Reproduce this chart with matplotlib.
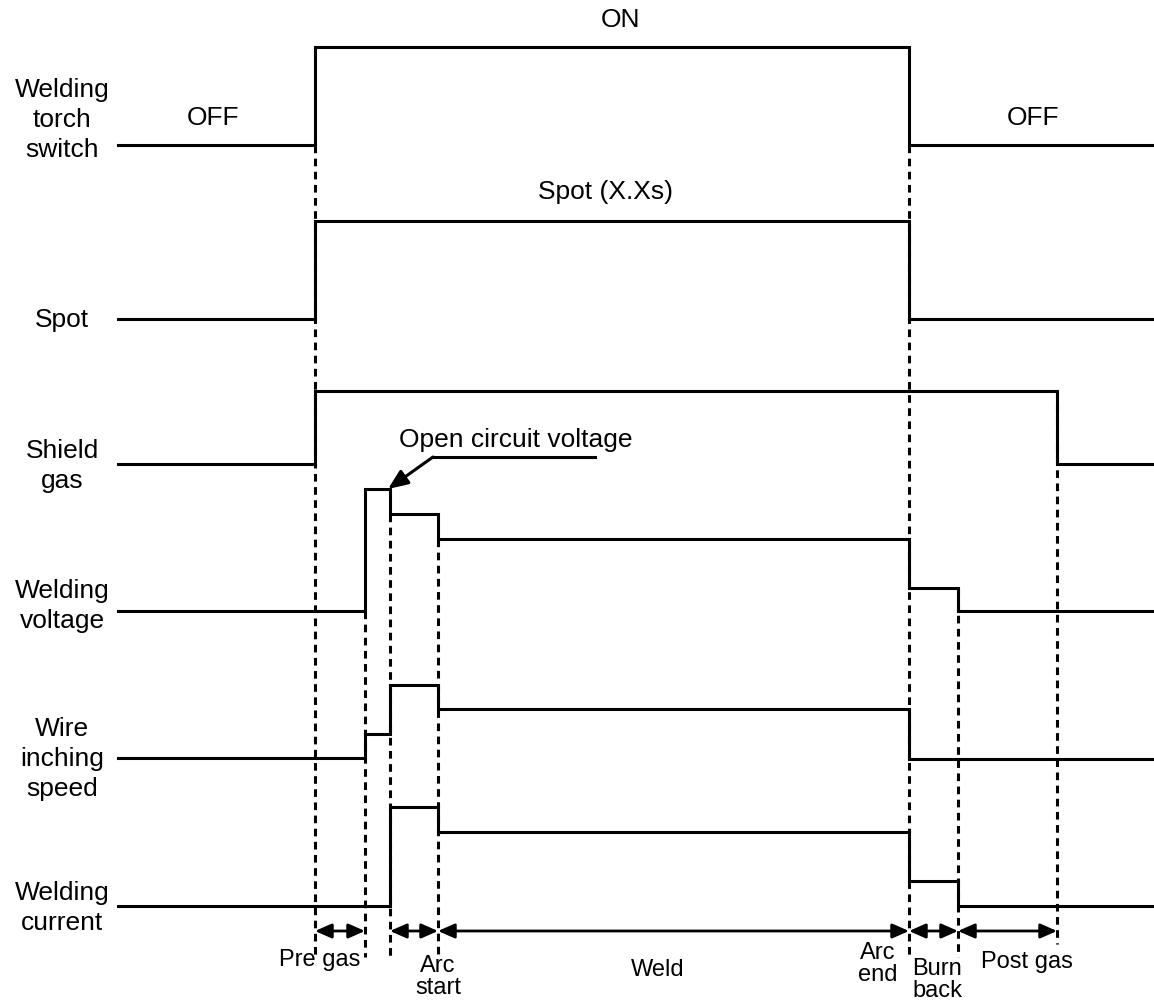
import matplotlib
matplotlib.use("Agg")
import matplotlib.pyplot as plt

plt.rcParams['font.family'] = ['Liberation Sans', 'DejaVu Sans']

# Event times (horizontal positions in drawing units)
t_start = 118
t_end = 1154
t_switch_on = 315
t_pregas_end = 365
t_arc = 390
t_arcstart_end = 438
t_switch_off = 909
t_burnback_end = 958
t_postgas_end = 1057

# Signal step definitions: change times and levels (vertical units, downward)
torch_t = [t_start, t_switch_on, t_switch_off, t_end]
torch_y = [146, 48, 146]

spot_t = [t_start, t_switch_on, t_switch_off, t_end]
spot_y = [320, 222, 320]

gas_t = [t_start, t_switch_on, t_postgas_end, t_end]
gas_y = [465, 392, 465]

volt_t = [t_start, t_pregas_end, t_arc, t_arcstart_end, t_switch_off, t_burnback_end, t_end]
volt_y = [612, 490, 515, 540, 589, 612]

wire_t = [t_start, t_pregas_end, t_arc, t_arcstart_end, t_switch_off, t_end]
wire_y = [759, 735, 686, 710, 760]

curr_t = [t_start, t_arc, t_arcstart_end, t_switch_off, t_burnback_end, t_end]
curr_y = [907, 808, 833, 882, 907]

signal_labels = ["Welding\ntorch\nswitch", "Spot", "Shield\ngas",
                 "Welding\nvoltage", "Wire\ninching\nspeed", "Welding\ncurrent"]
signal_label_y = [120, 320, 466, 606, 759, 908]

# Dashed guide lines: x, top, bottom
guide_x = [t_switch_on, t_pregas_end, t_arc, t_arcstart_end, t_switch_off, t_burnback_end, t_postgas_end]
guide_top = [146, 612, 515, 540, 146, 590, 392]
guide_bot = [958, 958, 958, 958, 958, 958, 945]

# Interval arrows
interval_from = [t_switch_on, t_arc, t_arcstart_end, t_switch_off, t_burnback_end]
interval_to = [t_pregas_end, t_arcstart_end, t_switch_off, t_burnback_end, t_postgas_end]
arrow_y = 932

period_labels = ["Pre gas", "Arc\nstart", "Weld", "Arc\nend", "Burn\nback", "Post gas"]
period_x = [320, 438, 658, 878, 937, 1027]
period_y = [960, 977, 970, 964, 980, 962]

fig = plt.figure(figsize=(11.54, 10.04), dpi=100)
ax = fig.add_axes([0, 0, 1, 1])
ax.set_xlim(0, 1154)
ax.set_ylim(1004, 0)
ax.axis('off')

lw = 2.2
for t, y in [(torch_t, torch_y), (spot_t, spot_y), (gas_t, gas_y),
             (volt_t, volt_y), (wire_t, wire_y), (curr_t, curr_y)]:
    ax.step(t, y + [y[-1]], where='post', color='black', lw=lw, solid_joinstyle='miter')

for x, top, bot in zip(guide_x, guide_top, guide_bot):
    ax.plot([x, x], [top, bot], color='black', lw=2.2, linestyle=(0, (2.5, 1.8)))

for a, b in zip(interval_from, interval_to):
    ax.annotate('', xy=(b, arrow_y), xytext=(a, arrow_y),
                arrowprops=dict(arrowstyle='<|-|>,head_length=0.5,head_width=0.22',
                                mutation_scale=20,
                                color='black', lw=2.0, shrinkA=0, shrinkB=0))

for lab, y in zip(signal_labels, signal_label_y):
    ax.text(62, y, lab, ha='center', va='center', fontsize=19, linespacing=1.3)

ax.text(620, 20, "ON", ha='center', va='center', fontsize=19)
ax.text(213, 118, "OFF", ha='center', va='center', fontsize=19)
ax.text(1033, 118, "OFF", ha='center', va='center', fontsize=19)
ax.text(605, 192, "Spot (X.Xs)", ha='center', va='center', fontsize=19)
ax.text(516, 440, "Open circuit voltage", ha='center', va='center', fontsize=19)

# Open circuit voltage leader
ax.plot([595, 433], [458, 458], color='black', lw=lw)
ax.annotate('', xy=(t_arc - 2, 490), xytext=(433, 458),
            arrowprops=dict(arrowstyle='-|>,head_length=0.6,head_width=0.25',
                            mutation_scale=20,
                            color='black', lw=lw, shrinkA=0, shrinkB=0))

for lab, x, y in zip(period_labels, period_x, period_y):
    ax.text(x, y, lab, ha='center', va='center', fontsize=17, linespacing=1.0)

fig.savefig("out.png", dpi=100)
